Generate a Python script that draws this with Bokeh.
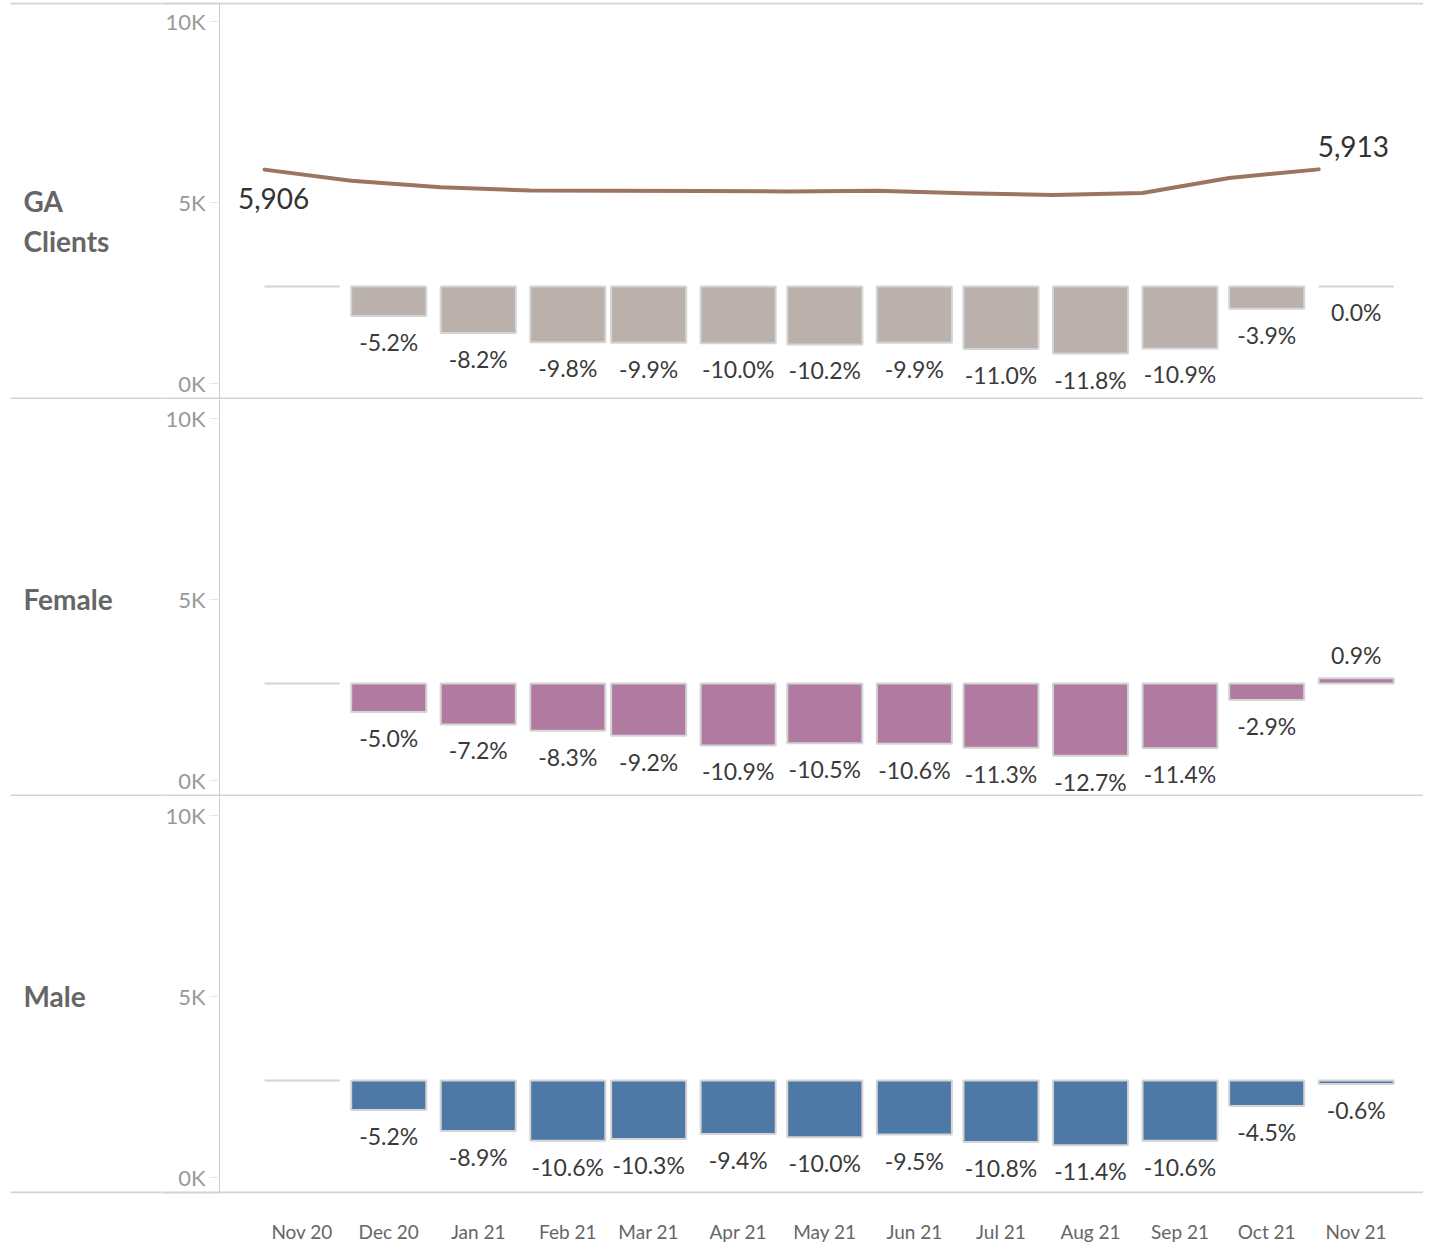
import datetime as dt
from bokeh.plotting import figure
from bokeh.models import Range1d, FixedTicker, BoxAnnotation, ColumnDataSource
from bokeh.layouts import column, row
from bokeh.embed import file_html
from bokeh.resources import INLINE
from bokeh.core.properties import value

# ---------------- data ----------------
months = ["2020-11-01", "2020-12-01", "2021-01-01", "2021-02-01", "2021-03-01",
          "2021-04-01", "2021-05-01", "2021-06-01", "2021-07-01", "2021-08-01",
          "2021-09-01", "2021-10-01", "2021-11-01"]
month_labels = ["Nov 20", "Dec 20", "Jan 21", "Feb 21", "Mar 21", "Apr 21", "May 21",
                "Jun 21", "Jul 21", "Aug 21", "Sep 21", "Oct 21", "Nov 21"]
row_names = ["GA\nClients", "Female", "Male"]
ga_clients = [5906, 5599, 5422, 5327, 5321, 5315, 5304, 5321, 5256, 5209, 5262, 5676, 5913]
ga_pct = [0.0, -5.2, -8.2, -9.8, -9.9, -10.0, -10.2, -9.9, -11.0, -11.8, -10.9, -3.9, 0.0]
female_pct = [0.0, -5.0, -7.2, -8.3, -9.2, -10.9, -10.5, -10.6, -11.3, -12.7, -11.4, -2.9, 0.9]
male_pct = [0.0, -5.2, -8.9, -10.6, -10.3, -9.4, -10.0, -9.5, -10.8, -11.4, -10.6, -4.5, -0.6]
y_ticks = [0, 5000, 10000]
y_tick_labels = ["0K", "5K", "10K"]

# ---------------- style ----------------
FONT = "Lato"
BASE = 2680          # baseline of the change bars (data units)
PCT_SCALE = 157      # bar depth per percentage point
BAR_DAYS = 26
LW = 161             # width of the row-header column
AXW = 58             # y-axis panel width
FW, FH = 1204, 397
TOP = 2
XAX_H = 45
YMIN, YMAX = -440, 10520
SEP = "#d3d3d3"
bar_colors = ["#bab0ac", "#b07aa1", "#4e79a7"]
LINE_COLOR = "#9c755f"
TXT = "#3a3a3a"

day0 = dt.date.fromisoformat(months[0])
xs = [(dt.date.fromisoformat(m) - day0).days for m in months]
centers = [x + BAR_DAYS // 2 for x in xs]

x_range = Range1d(-15.6, 401.3)
pcts = [ga_pct, female_pct, male_pct]
header_y = [FH / 2 - 20, FH / 2 - 1, FH / 2 - 1]
px = (YMAX - YMIN) / FH
sep_lo = YMIN + px
sep_hi = YMAX - px

rows = []
for i, (name, pct) in enumerate(zip(row_names, pcts)):
    last = i == 2
    top_b = TOP if i == 0 else 0
    bot_b = XAX_H if last else 0

    # ---- row header column ----
    lf = figure(frame_width=LW, frame_height=FH, x_range=Range1d(0, LW),
                y_range=Range1d(0, FH), output_backend="svg", toolbar_location=None,
                x_axis_location=None, y_axis_location=None,
                min_border_left=0, min_border_right=0,
                min_border_top=top_b, min_border_bottom=bot_b)
    lf.grid.visible = False
    lf.outline_line_color = None
    lf.quad(left=[10], right=[LW], bottom=[0], top=[2], fill_color=SEP, line_color=None)
    if i == 0:
        lf.quad(left=[10], right=[LW], bottom=[FH - 2], top=[FH], fill_color=SEP,
                line_color=None)
    lf.text(x=[23], y=[header_y[i]], text=[name], text_align="left",
            text_baseline="middle", text_font=value(FONT), text_font_size="28px",
            text_font_style="bold", text_color="#666666", text_line_height=1.2)

    # ---- main plot ----
    p = figure(frame_width=FW, frame_height=FH, x_range=x_range,
               y_range=Range1d(YMIN, YMAX), output_backend="svg",
               toolbar_location=None, x_axis_location="below" if last else None,
               min_border_left=AXW, min_border_right=0,
               min_border_top=top_b, min_border_bottom=bot_b)
    p.grid.visible = False
    p.outline_line_color = None

    yax = p.yaxis[0]
    yax.ticker = FixedTicker(ticks=y_ticks,
                             minor_ticks=[sep_lo, sep_hi] if i == 0 else [sep_lo])
    yax.major_label_overrides = dict(zip(y_ticks, y_tick_labels))
    yax.axis_line_color = "#cccccc"
    yax.axis_line_width = 1
    yax.major_tick_line_color = "#e8e8e8"
    yax.major_tick_out = 10
    yax.major_tick_in = 0
    yax.minor_tick_line_color = SEP
    yax.minor_tick_line_width = 2
    yax.minor_tick_in = 0
    try:
        # long minor tick carries the row separator through the axis panel;
        # pull the labels back next to the axis line
        yax.minor_tick_out = AXW
        yax.major_label_standoff = 4 - (AXW - 10)
    except Exception:
        yax.minor_tick_out = 10
        yax.major_label_standoff = 4
    yax.major_label_text_color = "#999999"
    yax.major_label_text_font = FONT
    yax.major_label_text_font_size = "22px"

    if last:
        xax = p.xaxis[0]
        xax.ticker = FixedTicker(ticks=centers)
        xax.major_label_overrides = dict(zip(centers, month_labels))
        xax.axis_line_color = None
        xax.major_tick_line_color = None
        xax.minor_tick_line_color = None
        xax.major_label_text_color = "#666666"
        xax.major_label_text_font = FONT
        xax.major_label_text_font_size = "19px"
        xax.major_label_standoff = 20

    # change bars
    tops = [BASE + max(v, 0) * PCT_SCALE for v in pct]
    bottoms = [BASE + min(v, 0) * PCT_SCALE for v in pct]
    src = ColumnDataSource(dict(left=xs, right=[x + BAR_DAYS for x in xs],
                                top=tops, bottom=bottoms))
    p.quad(left="left", right="right", top="top", bottom="bottom", source=src,
           fill_color=bar_colors[i], line_color="#d4d4d4", line_width=2)

    # percentage labels (first month has no comparison label)
    neg = dict(x=[], y=[], t=[])
    pos = dict(x=[], y=[], t=[])
    for j in range(1, len(pct)):
        d = pos if pct[j] > 0 else neg
        d["x"].append(centers[j])
        d["y"].append(tops[j] if pct[j] > 0 else bottoms[j])
        d["t"].append(f"{pct[j]:.1f}%")
    p.text(x="x", y="y", text="t", source=ColumnDataSource(neg), text_align="center",
           text_baseline="top", y_offset=12, text_font=value(FONT),
           text_font_size="23px", text_color=TXT)
    if pos["x"]:
        p.text(x="x", y="y", text="t", source=ColumnDataSource(pos), text_align="center",
               text_baseline="bottom", y_offset=-9, text_font=value(FONT),
               text_font_size="23px", text_color=TXT)

    if i == 0:
        p.line(xs, ga_clients, line_color=LINE_COLOR, line_width=4, line_cap="round",
               line_join="round")
        p.text(x=[xs[0]], y=[ga_clients[0]], text=[f"{ga_clients[0]:,}"],
               text_align="center", text_baseline="top", x_offset=9, y_offset=18,
               text_font=value(FONT), text_font_size="28px", text_color="#333333")
        p.text(x=[xs[-1]], y=[ga_clients[-1]], text=[f"{ga_clients[-1]:,}"],
               text_align="left", text_baseline="bottom", x_offset=-1, y_offset=-12,
               text_font=value(FONT), text_font_size="28px", text_color="#333333")
        p.add_layout(BoxAnnotation(left=0, right=FW, bottom=FH - 2, top=FH,
                                   left_units="screen", right_units="screen",
                                   top_units="screen", bottom_units="screen",
                                   fill_color=SEP, fill_alpha=1, line_alpha=0))

    # separator under each row
    p.add_layout(BoxAnnotation(left=0, right=FW, bottom=0, top=2,
                               left_units="screen", right_units="screen",
                               top_units="screen", bottom_units="screen",
                               fill_color=SEP, fill_alpha=1, line_alpha=0))

    rows.append(row(lf, p, spacing=0))

layout = column(*rows, spacing=0)
open("out.html", "w").write(file_html(layout, INLINE))
